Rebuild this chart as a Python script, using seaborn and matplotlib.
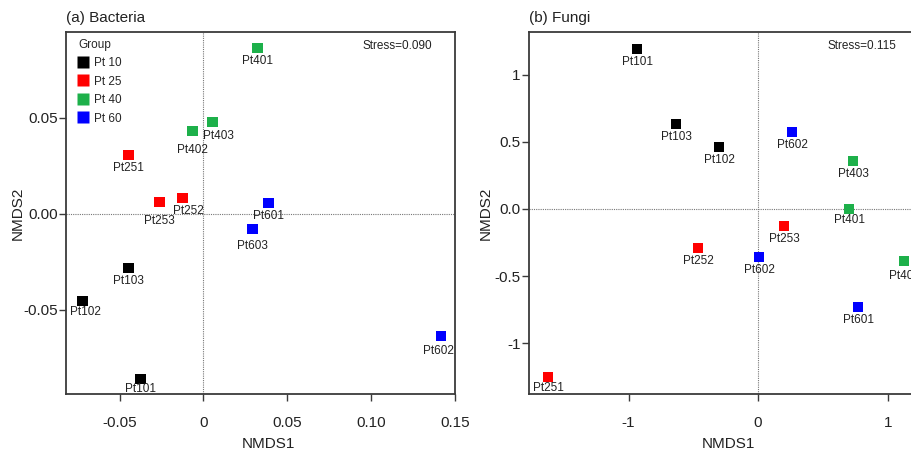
import pandas as pd
import seaborn as sns
import matplotlib.pyplot as plt

# --- data ---
groups = ['Pt 10', 'Pt 25', 'Pt 40', 'Pt 60']
colors = ['#000000', '#ff0000', '#1db04a', '#0000ff']

bac_samples = ['Pt101', 'Pt102', 'Pt103', 'Pt251', 'Pt252', 'Pt253',
               'Pt401', 'Pt402', 'Pt403', 'Pt601', 'Pt602', 'Pt603']
bac_group = ['Pt 10', 'Pt 10', 'Pt 10', 'Pt 25', 'Pt 25', 'Pt 25',
             'Pt 40', 'Pt 40', 'Pt 40', 'Pt 60', 'Pt 60', 'Pt 60']
bac_nmds1 = [-0.0375, -0.072, -0.0446, -0.0446, -0.0125, -0.0262,
             0.0321, -0.0065, 0.0054, 0.0387, 0.1417, 0.0292]
bac_nmds2 = [-0.0859, -0.0453, -0.0281, 0.0307, 0.0083, 0.0063,
             0.0865, 0.0432, 0.048, 0.0057, -0.0635, -0.0078]

fun_samples = ['Pt101', 'Pt102', 'Pt103', 'Pt251', 'Pt252', 'Pt253',
               'Pt401', 'Pt402', 'Pt403', 'Pt601', 'Pt602', 'Pt602']
fun_group = bac_group
fun_nmds1 = [-0.934, -0.301, -0.633, -1.62, -0.463, 0.20,
             0.703, 1.127, 0.734, 0.772, 0.263, 0.008]
fun_nmds2 = [1.194, 0.463, 0.634, -1.254, -0.291, -0.127,
             0.0, -0.388, 0.358, -0.731, 0.575, -0.358]

bac = pd.DataFrame({'sample': bac_samples, 'group': bac_group,
                    'NMDS1': bac_nmds1, 'NMDS2': bac_nmds2})
fun = pd.DataFrame({'sample': fun_samples, 'group': fun_group,
                    'NMDS1': fun_nmds1, 'NMDS2': fun_nmds2})

# label nudges (points), default is straight below the marker
bac_nudge = {'Pt402': (0, -14), 'Pt403': (4, -10), 'Pt252': (4, -9.5),
             'Pt253': (0, -14), 'Pt102': (2, -8), 'Pt101': (0, -7),
             'Pt603': (0, -12), 'Pt602': (-2, -11)}
fun_nudge = {'Pt401': (0, -8), 'Pt251': (0, -8), 'Pt402': (0, -11)}

sns.set_style('white')
plt.rcParams['font.family'] = ['Liberation Sans', 'DejaVu Sans']
txt = '#222222'

fig = plt.figure(figsize=(9.11, 4.5), dpi=100)
ax1 = fig.add_axes([0.0724, 0.1244, 0.4271, 0.8045])
ax2 = fig.add_axes([0.5807, 0.1244, 0.4292, 0.8045])
palette = dict(zip(groups, colors))


def draw(ax, df, nudge, title, stress, show_legend):
    ax.axhline(0, color='#777777', lw=0.8, ls=(0, (1, 1)), zorder=0)
    ax.axvline(0, color='#777777', lw=0.8, ls=(0, (1, 1)), zorder=0)
    sns.scatterplot(data=df, x='NMDS1', y='NMDS2', hue='group',
                    hue_order=groups, palette=palette, marker='s', s=58,
                    edgecolor='none', legend=show_legend, ax=ax, zorder=3)
    for _, r in df.iterrows():
        dx, dy = nudge.get(r['sample'], (0, -9.5))
        ax.annotate(r['sample'], (r['NMDS1'], r['NMDS2']),
                    xytext=(dx, dy), textcoords='offset points',
                    ha='center', va='center', fontsize=8.5, color=txt)
    ax.text(0.94, 0.96, stress, transform=ax.transAxes, ha='right',
            va='center', fontsize=8.5, color=txt)
    ax.set_title(title, loc='left', fontsize=11, color=txt, pad=7)
    ax.set_xlabel('NMDS1', fontsize=11, color=txt)
    ax.set_ylabel('NMDS2', fontsize=11, color=txt)
    for sp in ax.spines.values():
        sp.set_color('#3a3a3a')
        sp.set_linewidth(1.3)
    ax.tick_params(axis='both', direction='out', length=5, width=1,
                   color='#3a3a3a', labelsize=11, labelcolor=txt,
                   left=True, bottom=True)
    ax.tick_params(axis='x', pad=11)
    ax.tick_params(axis='y', pad=1)


draw(ax1, bac, bac_nudge, '(a) Bacteria', 'Stress=0.090', True)
draw(ax2, fun, fun_nudge, '(b) Fungi', 'Stress=0.115', False)

ax1.set_xlim(-0.082, 0.1495)
ax1.set_ylim(-0.0938, 0.0948)
ax1.set_xticks([-0.05, 0, 0.05, 0.10, 0.15],
               ['-0.05', '0', '0.05', '0.10', '0.15'])
ax1.set_yticks([-0.05, 0.0, 0.05], ['-0.05', '0.00', '0.05'])
ax1.xaxis.set_label_coords(0.52, -0.118)
ax1.yaxis.set_label_coords(-0.105, 0.5)

ax2.set_xlim(-1.768, 1.25)
ax2.set_ylim(-1.38, 1.32)
ax2.set_xticks([-1, 0, 1], ['-1', '0', '1'])
ax2.set_yticks([-1, -0.5, 0, 0.5, 1], ['-1', '-0.5', '0.0', '0.5', '1'])
ax2.xaxis.set_label_coords(0.509, -0.118)
ax2.yaxis.set_label_coords(-0.092, 0.5)

sns.move_legend(ax1, loc='upper left', bbox_to_anchor=(0.017, 0.998),
                frameon=False, title='Group', fontsize=8.5,
                title_fontsize=8.5, borderpad=0, handlelength=0.8,
                handletextpad=0.5, labelspacing=0.55, markerscale=1.1)
ax1.get_legend()._legend_box.align = 'left'

fig.savefig('out.png', dpi=100)
